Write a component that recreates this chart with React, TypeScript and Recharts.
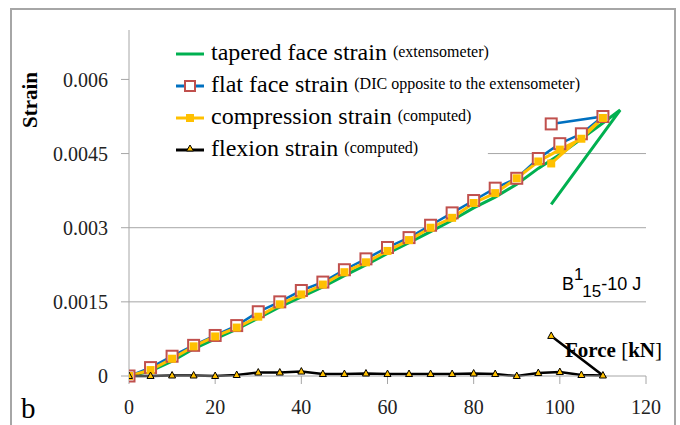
import React from 'react';
import { LineChart, Line, XAxis, YAxis, ReferenceLine, Legend } from 'recharts';

// force steps (kN); last entry is the unloading point
const loadForce = [0, 5, 10, 15, 20, 25, 30, 35, 40, 45, 50, 55, 60, 65, 70, 75, 80, 85, 90, 95, 100, 105, 110, 98];
const taperedForce = [0, 5, 10, 15, 20, 25, 30, 35, 40, 45, 50, 55, 60, 65, 70, 75, 80, 85, 90, 95, 100, 105, 110, 114, 98];

const taperedStrain = [0, 0.0001, 0.0003, 0.00055, 0.00075, 0.00095, 0.00117, 0.0014, 0.0016, 0.0018, 0.00203, 0.00225, 0.00248, 0.0027, 0.00292, 0.00315, 0.0034, 0.00362, 0.00388, 0.0042, 0.00448, 0.0048, 0.00512, 0.00538, 0.00347];
const flatStrain = [0, 0.00017, 0.0004, 0.00062, 0.00082, 0.00102, 0.0013, 0.0015, 0.00173, 0.0019, 0.00215, 0.00237, 0.0026, 0.0028, 0.00305, 0.0033, 0.00355, 0.0038, 0.004, 0.0044, 0.0047, 0.0049, 0.00525, 0.0051];
const compressionStrain = [0, 0.00012, 0.00035, 0.0006, 0.0008, 0.00098, 0.0012, 0.00145, 0.00165, 0.00185, 0.0021, 0.0023, 0.00253, 0.00275, 0.003, 0.0032, 0.0035, 0.0037, 0.004, 0.00434, 0.00458, 0.0048, 0.00522, 0.0043];
const flexionStrain = [0, 0, 0.00001, 0.00001, 0, 0.00002, 0.00007, 0.00007, 0.00009, 0.00004, 0.00004, 0.00005, 0.00004, 0.00004, 0.00004, 0.00004, 0.00005, 0.00004, 0, 0.00006, 0.00008, 0.00002, 0.00001, 0.00081];

const xTicks = [0, 20, 40, 60, 80, 100, 120];
const yTicks = [0, 0.0015, 0.003, 0.0045, 0.006];

const toRows = (xs: number[], ys: number[]) => xs.map((x, i) => ({ x, y: ys[i] }));

const tapered = toRows(taperedForce, taperedStrain);
const flat = toRows(loadForce, flatStrain);
const compression = toRows(loadForce, compressionStrain);
const flexion = toRows(loadForce, flexionStrain);

const GREEN = '#00b050';
const BLUE = '#0070c0';
const RED = '#c0504d';
const YELLOW = '#ffc000';
const GREY = '#a6a6a6';
const SERIF = 'Liberation Serif, serif';

const flatDot = (p: any) => (
  <rect key={`f${p.index}`} x={p.cx - 5.5} y={p.cy - 5.5} width={11} height={11} fill="#fff" stroke={RED} strokeWidth={2} />
);
const compDot = (p: any) => (
  <rect key={`c${p.index}`} x={p.cx - 4} y={p.cy - 4} width={8} height={8} fill={YELLOW} />
);
const flexDot = (p: any) => (
  <path key={`x${p.index}`} d={`M${p.cx},${p.cy - 4}L${p.cx + 3.5},${p.cy + 2.5}L${p.cx - 3.5},${p.cy + 2.5}Z`} fill={YELLOW} stroke="#000" strokeWidth={1} />
);

const legendItems = [
  { name: 'tapered face strain', note: '(extensometer)', color: GREEN, marker: 'none' },
  { name: 'flat face strain', note: '(DIC opposite to the extensometer)', color: BLUE, marker: 'open' },
  { name: 'compression strain', note: '(computed)', color: YELLOW, marker: 'square' },
  { name: 'flexion strain', note: '(computed)', color: '#000', marker: 'triangle' },
];

const LegendContent = () => (
  <div style={{ fontFamily: SERIF, color: '#000' }}>
    {legendItems.map((it) => (
      <div key={it.name} style={{ height: 32, display: 'flex', alignItems: 'center', whiteSpace: 'nowrap' }}>
        <svg width={30} height={16} style={{ marginRight: 6 }}>
          <line x1={1} y1={10} x2={29} y2={10} stroke={it.color} strokeWidth={3} />
          {it.marker === 'open' && <rect x={10} y={5} width={10} height={10} fill="#fff" stroke={RED} strokeWidth={2} />}
          {it.marker === 'square' && <rect x={11} y={6} width={8} height={8} fill={YELLOW} />}
          {it.marker === 'triangle' && <path d="M15,5L18.5,11L11.5,11Z" fill={YELLOW} stroke="#000" strokeWidth={1} />}
        </svg>
        <span style={{ fontSize: 24 }}>{it.name}</span>
        <span style={{ fontSize: 16, marginLeft: 6 }}>{it.note}</span>
      </div>
    ))}
  </div>
);

export default function App() {
  return (
    <div style={{ position: 'absolute', left: 0, top: 0, width: 680, height: 425, background: '#fff', overflow: 'hidden' }}>
      <div style={{ position: 'absolute', left: 10, top: 8, width: 662, height: 440, border: `2px solid ${GREY}` }} />
      <LineChart
        width={680}
        height={425}
        margin={{ top: 30, right: 34, bottom: 0, left: 0 }}
        style={{ position: 'absolute', left: 0, top: 0 }}
      >
        <XAxis
          type="number"
          dataKey="x"
          domain={[0, 120]}
          ticks={xTicks}
          height={49}
          allowDataOverflow
          stroke={GREY}
          tickSize={8}
          tickMargin={16}
          tick={{ fill: '#222', fontSize: 20, fontFamily: SERIF }}
        />
        <YAxis
          type="number"
          dataKey="y"
          domain={[0, 0.007]}
          ticks={yTicks}
          width={129}
          stroke={GREY}
          tickSize={8}
          tickMargin={13}
          tick={{ fill: '#222', fontSize: 20, fontFamily: SERIF }}
        />
        <ReferenceLine y={0.0015} stroke={GREY} strokeWidth={1} />
        <ReferenceLine y={0.003} stroke={GREY} strokeWidth={1} />
        <ReferenceLine segment={[{ x: 83.3, y: 0.0045 }, { x: 120, y: 0.0045 }]} stroke={GREY} strokeWidth={1} />
        <Legend
          layout="vertical"
          verticalAlign="middle"
          align="center"
          content={<LegendContent />}
          wrapperStyle={{ position: 'absolute', left: 175, top: 36, width: 460, height: 130 }}
        />
        <Line data={tapered} dataKey="y" name="tapered" stroke={GREEN} strokeWidth={3} dot={false} isAnimationActive={false} />
        <Line data={flat} dataKey="y" name="flat" stroke={BLUE} strokeWidth={2.5} dot={flatDot} isAnimationActive={false} />
        <Line data={compression} dataKey="y" name="compression" stroke={YELLOW} strokeWidth={3} dot={compDot} isAnimationActive={false} />
        <Line data={flexion} dataKey="y" name="flexion" stroke="#000" strokeWidth={2.5} dot={flexDot} isAnimationActive={false} />
      </LineChart>
      <svg width={680} height={425} style={{ position: 'absolute', left: 0, top: 0, pointerEvents: 'none' }}>
        <text x={21} y={418} fontFamily={SERIF} fontSize={29} fill="#000">b</text>
        <text
          transform="translate(30,100) rotate(-90)"
          textAnchor="middle"
          dominantBaseline="central"
          fontFamily={SERIF}
          fontWeight="bold"
          fontSize={21}
          fill="#000"
        >
          Strain
        </text>
        <text x={565} y={357} fontFamily={SERIF} fontSize={21} fill="#000">
          <tspan fontWeight="bold">Force</tspan> [<tspan fontWeight="bold">kN</tspan>]
        </text>
        <text x={562} y={290} fontFamily="Liberation Sans, Arial, sans-serif" fontSize={18} fill="#000">
          B<tspan dy={-10} fontSize={17}>1</tspan>
          <tspan dy={17} fontSize={17}>15</tspan>
          <tspan dy={-7}>-10 J</tspan>
        </text>
      </svg>
    </div>
  );
}
